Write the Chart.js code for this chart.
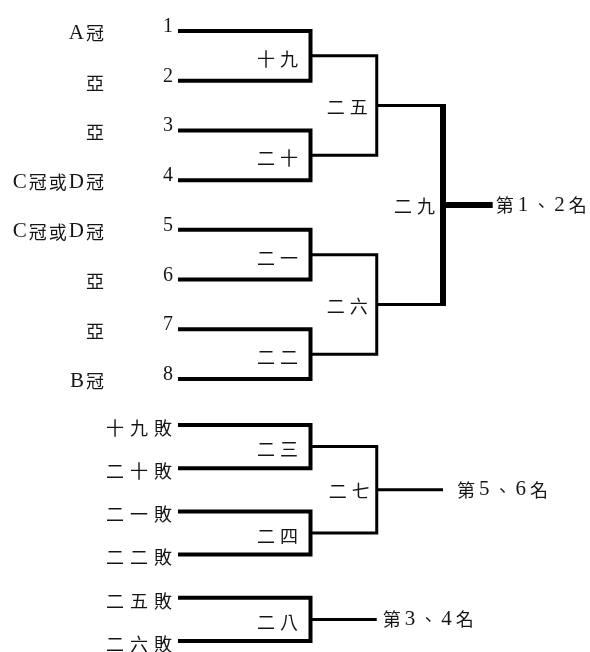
<!DOCTYPE html>
<html>
<head>
<meta charset="utf-8">
<script src="https://cdn.jsdelivr.net/npm/chart.js@4.4.1/dist/chart.umd.min.js"></script>
<style>
  html, body { margin: 0; padding: 0; background: #fff; }
  canvas { display: block; }
</style>
</head>
<body>
<canvas id="main" width="590" height="400"></canvas>
<canvas id="lower" width="590" height="252"></canvas>
<script>
// main bracket
const seeds = ['1', '2', '3', '4', '5', '6', '7', '8'];
const entrants = ['A冠', '亞', '亞', 'C冠或D冠', 'C冠或D冠', '亞', '亞', 'B冠'];
const roundOne = ['十九', '二十', '二一', '二二'];
const semiFinals = ['二五', '二六'];
const finalMatch = ['二九'];
const finalPlace = ['第1、2名'];

// 5th / 6th place
const placeEntrants = ['十九敗', '二十敗', '二一敗', '二二敗'];
const placeRound = ['二三', '二四'];
const placeFinal = ['二七'];
const placeResult = ['第5、6名'];

// 3rd / 4th place
const bronzeEntrants = ['二五敗', '二六敗'];
const bronzeMatch = ['二八'];
const bronzeResult = ['第3、4名'];

const CJK_FONT = '18px "Noto Sans CJK TC", sans-serif';
const LATIN_FONT = '21px "Liberation Serif", serif';
const NUM_FONT = '20px "Liberation Serif", serif';

// x columns: -1 = entrant line start, 1/2/3 = rounds
function seg(points, width) {
  return {
    data: points.map(p => ({ x: p[0], y: p[1] })),
    showLine: true,
    borderColor: '#000',
    borderWidth: width,
    borderJoinStyle: 'miter',
    borderCapStyle: 'butt',
    pointRadius: 0,
    fill: false
  };
}
function bracket(x0, x1, ya, yb, w) {
  return seg([[x0, ya], [x1, ya], [x1, yb], [x0, yb]], w);
}
function mid(a, b) { return (a + b) / 2; }

// draws mixed latin / cjk text char by char so each script gets its own face
function drawRun(ctx, t, px, py) {
  const chars = [...t.text];
  const fontOf = c => t.font || (/[\x00-\x7f]/.test(c) ? LATIN_FONT : CJK_FONT);
  const sp = t.spacing || 0;
  const widths = chars.map(c => { ctx.font = fontOf(c); return ctx.measureText(c).width; });
  const total = widths.reduce((a, b) => a + b, 0) + sp * (chars.length - 1);
  let cx = t.align === 'left' ? px : px - total;
  chars.forEach((c, i) => {
    ctx.font = fontOf(c);
    ctx.fillText(c, cx, py);
    cx += widths[i] + sp;
  });
}

const bracketText = {
  id: 'bracketText',
  afterDatasetsDraw(chart, args, opts) {
    const { ctx, scales: { x, y } } = chart;
    ctx.save();
    ctx.fillStyle = '#151515';
    ctx.textAlign = 'left';
    opts.items.forEach(t => {
      ctx.textBaseline = t.baseline || 'middle';
      drawRun(ctx, t, x.getPixelForValue(t.x) + (t.dx || 0), y.getPixelForValue(t.y) + (t.dy || 0));
    });
    ctx.restore();
  }
};

function makeChart(id, datasets, items, yMin, yMax) {
  return new Chart(document.getElementById(id), {
    type: 'scatter',
    data: { datasets: datasets },
    options: {
      responsive: false,
      animation: false,
      events: [],
      layout: { padding: 0 },
      scales: {
        x: { type: 'linear', min: -3.687, max: 5.219, display: false },
        y: { type: 'linear', min: yMin, max: yMax, reverse: true, display: false }
      },
      plugins: {
        legend: { display: false },
        tooltip: { enabled: false },
        bracketText: { items: items }
      }
    },
    plugins: [bracketText]
  });
}

// ---- main bracket ----
const mainSets = [];
const mainText = [];
const r1Y = roundOne.map((m, i) => mid(2 * i, 2 * i + 1));
const sfY = semiFinals.map((m, i) => mid(r1Y[2 * i], r1Y[2 * i + 1]));
const fY = mid(sfY[0], sfY[1]);

roundOne.forEach((m, i) => {
  mainSets.push(bracket(-1, 1, 2 * i, 2 * i + 1, 4));
  mainText.push({ text: m, x: 1, y: r1Y[i], dx: -12.5, dy: 3, spacing: 5 });
});
seeds.forEach((s, i) => {
  mainText.push({ text: s, x: -1, y: i, dx: -5, dy: 1, font: NUM_FONT, baseline: 'alphabetic' });
  mainText.push({ text: entrants[i], x: -1, y: i, dx: -74, dy: 2, spacing: 2 });
});
semiFinals.forEach((m, i) => {
  mainSets.push(bracket(1, 2, r1Y[2 * i], r1Y[2 * i + 1], 3));
  mainText.push({ text: m, x: 2, y: sfY[i], dx: -9, dy: 2, spacing: 5 });
});
sfY.forEach(v => mainSets.push(seg([[2, v], [3, v]], 3)));
mainSets.push(seg([[3, sfY[0] - 0.03], [3, sfY[1] + 0.03]], 6));
mainSets.push(seg([[3, fY], [3.75, fY]], 6));
mainText.push({ text: finalMatch[0], x: 3, y: fY, dx: -8, dy: 1, spacing: 5 });
mainText.push({ text: finalPlace[0], x: 3.75, y: fY, dx: 3, dy: 0, spacing: 4, align: 'left' });

makeChart('main', mainSets, mainText, -0.6236, 7.4224);

// ---- placement brackets ----
const lowSets = [];
const lowText = [];
const prY = placeRound.map((m, i) => mid(2 * i, 2 * i + 1));
const pfY = mid(prY[0], prY[1]);

placeRound.forEach((m, i) => {
  lowSets.push(bracket(-1, 1, 2 * i, 2 * i + 1, 4));
  lowText.push({ text: m, x: 1, y: prY[i], dx: -12.5, dy: 3, spacing: 5 });
});
placeEntrants.forEach((e, i) => {
  lowText.push({ text: e, x: -1, y: i, dx: -6, dy: 3, spacing: 6 });
});
lowSets.push(bracket(1, 2, prY[0], prY[1], 3));
lowSets.push(seg([[2, pfY], [3, pfY]], 3));
lowText.push({ text: placeFinal[0], x: 2, y: pfY, dx: -7, dy: 1, spacing: 5 });
lowText.push({ text: placeResult[0], x: 3, y: pfY, dx: 14, dy: 0, spacing: 4, align: 'left' });

const bBase = placeEntrants.length;
const bY = mid(bBase, bBase + 1);
lowSets.push(bracket(-1, 1, bBase, bBase + 1, 4));
bronzeEntrants.forEach((e, i) => {
  lowText.push({ text: e, x: -1, y: bBase + i, dx: -6, dy: 3, spacing: 6 });
});
lowSets.push(seg([[1, bY], [2, bY]], 3));
lowText.push({ text: bronzeMatch[0], x: 1, y: bY, dx: -12.5, dy: 3, spacing: 5 });
lowText.push({ text: bronzeResult[0], x: 2, y: bY, dx: 6, dy: 0, spacing: 4, align: 'left' });

makeChart('lower', lowSets, lowText, -0.5787, 5.2546);
</script>
</body>
</html>
